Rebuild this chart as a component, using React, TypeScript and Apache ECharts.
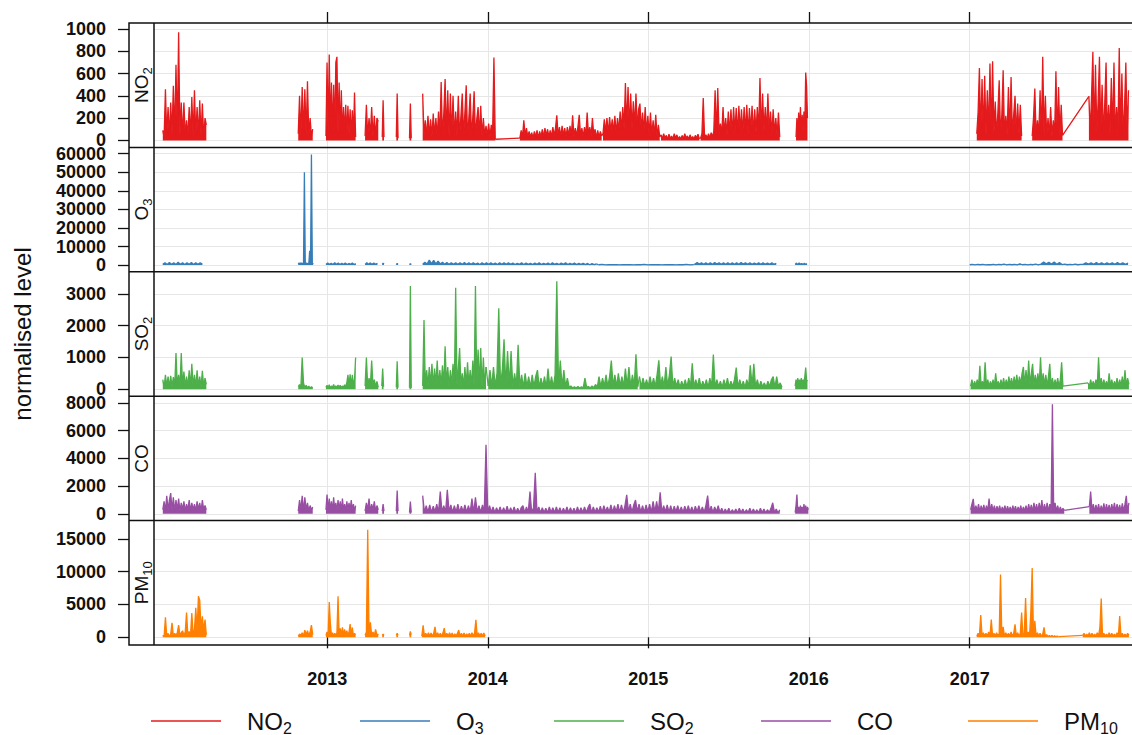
import React, { useEffect, useRef } from 'react';
import * as echarts from 'echarts';

type Seg = [string, number, number[], boolean?];

const seriesNames = ['NO2', 'O3', 'SO2', 'CO', 'PM10'];
const seriesRich = ['NO{sub|2}', 'O{sub|3}', 'SO{sub|2}', 'CO', 'PM{sub|10}'];
const seriesColors = ['#E41A1C', '#377EB8', '#4DAF4A', '#984EA3', '#FF7F00'];

const yearTicks = ['2013-01-01', '2014-01-01', '2015-01-01', '2016-01-01', '2017-01-01'];
const xRange = ['2011-12-04', '2018-01-05'];

const no2Ticks = [0, 200, 400, 600, 800, 1000];
const o3Ticks = [0, 10000, 20000, 30000, 40000, 50000, 60000];
const so2Ticks = [0, 1000, 2000, 3000];
const coTicks = [0, 2000, 4000, 6000, 8000];
const pm10Ticks = [0, 5000, 10000, 15000];
const yRanges: [number, number][] = [[-63, 1054], [-3600, 63400], [-220, 3700], [-485, 8485], [-1170, 17770]];

// segments: [start date, step in days, values, joined to previous segment by a straight line]
const no2Segs: Seg[] = [
  ['2011-12-24', 3, [90, 30, 460, 40, 300, 30, 340, 50, 490, 40, 680, 60, 970, 40, 340, 30, 340, 40, 180, 30, 300, 40, 390, 30, 450, 40, 300, 30, 360, 40, 330, 30, 200, 140]],
  ['2012-10-27', 3, [60, 400, 40, 480, 60, 460, 40, 530, 30, 200, 40, 100]],
  ['2012-12-29', 2.5, [40, 700, 60, 770, 80, 520, 50, 500, 70, 700, 750, 60, 520, 50, 450, 40, 300, 60, 320, 40, 310, 50, 280, 40, 270, 30, 430, 30]],
  ['2013-03-28', 3, [40, 320, 30, 200, 40, 300, 30, 220, 40, 200, 170]],
  ['2013-05-06', 2, [30, 360, 30]],
  ['2013-06-07', 2, [30, 420, 20]],
  ['2013-07-07', 2, [20, 330, 20]],
  ['2013-08-06', 3, [420, 40, 180, 30, 220, 40, 190, 30, 240, 40, 200, 30, 260, 40, 525, 30, 240, 550, 40, 450, 30, 420, 40, 400, 30, 260, 40, 400, 30, 220, 420, 40, 250, 495, 30, 200, 420, 40, 210, 440, 30, 190, 300, 40, 310, 30, 200, 40, 130, 40, 150, 30, 140, 60, 745, 10]],
  ['2014-03-15', 3, [20, 90, 30, 180, 40, 110, 30, 80, 30, 70, 20, 80, 30, 90, 20, 80, 30, 100, 30, 110, 40, 100, 30, 90, 30, 120, 40, 110, 225, 40, 120, 30, 130, 40, 110, 30, 120, 40, 130, 40, 225, 30, 110, 40, 120, 230, 40, 110, 30, 120, 40, 250, 50, 120, 40, 200, 50, 100, 20, 90, 30, 80, 40], true],
  ['2014-09-20', 3, [60, 190, 70, 200, 60, 210, 80, 190, 70, 220, 60, 200, 80, 260, 90, 300, 100, 515, 120, 480, 110, 420, 100, 350, 120, 420, 110, 280, 330, 90, 250, 70, 300, 60, 220, 50, 250, 40, 180, 40, 230, 30, 140, 30], true],
  ['2015-01-30', 3, [50, 15, 60, 20, 45, 10, 55, 15, 40, 10, 60, 20, 50, 10, 35, 10, 45, 15, 60, 20, 40, 10, 50, 15, 35, 10, 45, 20, 55, 15], true],
  ['2015-04-30', 3, [20, 60, 380, 30, 50, 20, 60, 20, 70, 30, 80, 450, 40, 470, 60, 150, 50, 300, 60, 200, 50, 260, 60, 280, 50, 300, 70, 290, 60, 310, 80, 280, 60, 300, 70, 320, 60, 290, 80, 310, 60, 280, 70, 300, 80, 560, 60, 420, 80, 300, 60, 420, 70, 260, 50, 280, 60, 200, 40, 250, 30], true],
  ['2015-12-03', 2, [30, 200, 40, 250, 60, 300, 50, 230, 80, 260, 100, 610, 490, 200]],
  ['2017-01-17', 3, [60, 250, 650, 40, 550, 50, 580, 40, 450, 60, 690, 40, 710, 60, 350, 40, 250, 540, 50, 230, 630, 40, 220, 50, 480, 40, 570, 50, 230, 400, 40, 330, 50, 320, 40]],
  ['2017-05-23', 3, [40, 200, 465, 30, 180, 40, 450, 30, 750, 40, 400, 30, 200, 40, 300, 30, 180, 40, 620, 30, 480, 40, 320, 45]],
  ['2017-09-29', 3, [395, 60, 400, 795, 50, 680, 70, 350, 750, 60, 500, 50, 330, 700, 40, 320, 60, 560, 50, 700, 40, 300, 60, 830, 50, 600, 40, 300, 700, 50, 450], true],
];

const o3Segs: Seg[] = [
  ['2011-12-24', 5, [400, 1300, 300, 1400, 500, 1200, 300, 1500, 400, 1300, 300, 1200, 500, 1400, 300, 1300, 400, 1200, 600]],
  ['2012-10-27', 2, [500, 1200, 400, 1300, 500, 1100, 400, 50000, 600, 1200, 400, 1100, 500, 7700, 1000, 59600, 800, 1200]],
  ['2012-12-29', 4, [300, 1200, 400, 1000, 300, 1300, 500, 1100, 300, 1000, 400, 1200, 300, 900, 400, 1100, 300, 800]],
  ['2013-03-28', 4, [400, 1300, 500, 1200, 400, 1100, 500, 900]],
  ['2013-05-06', 2, [400, 1000, 500]],
  ['2013-06-07', 2, [300, 900, 400]],
  ['2013-07-07', 2, [300, 800, 300]],
  ['2013-08-06', 5, [500, 1500, 600, 2700, 800, 2500, 700, 2200, 600, 1600, 500, 1400, 400, 1300, 500, 1200, 400, 1300, 500, 1400, 400, 1200, 500, 1300, 400, 1100, 300, 1200, 400, 1300, 500, 1200, 400, 1100, 300, 1200, 400, 1300, 500, 1200, 400, 1100, 300, 1000, 400, 1200, 300, 1100, 400, 1000, 300, 1100, 400, 1200, 300, 1000, 400, 1100, 300, 1200, 400, 1000, 300, 1100, 400, 1200, 300, 1000, 400, 1100, 300, 900, 400, 1000, 300, 900, 200, 800, 300, 700]],
  ['2014-09-10', 8, [200, 350, 150, 300, 200, 250, 150, 300, 200, 250, 150, 300, 200, 350, 150, 250, 200, 300, 150, 250, 200, 300, 150, 250, 200, 350, 150, 300], true],
  ['2015-04-17', 5, [500, 1400, 600, 1300, 500, 1200, 400, 1300, 500, 1400, 600, 1300, 500, 1200, 400, 1300, 500, 1200, 400, 1300, 500, 1400, 600, 1300, 500, 1200, 400, 1100, 500, 1300, 400, 1200, 500, 1100, 400, 1200, 500, 900], true],
  ['2015-12-01', 3, [400, 1100, 300, 1200, 500, 900, 300, 1000, 400, 800]],
  ['2017-01-01', 6, [200, 400, 150, 350, 200, 400, 150, 300, 200, 400, 150, 350, 200, 600, 150, 350, 200, 400, 150, 700, 200, 400, 150, 350, 200, 600, 150, 600, 1600, 700, 1500, 600, 1700, 500, 1400, 300, 500, 200, 400, 300, 500, 200, 400, 400, 1300, 500, 1200, 400, 1400, 500, 1300, 400, 1200, 500, 1300, 400, 1400, 500, 1200, 400, 1100]],
];

const so2Segs: Seg[] = [
  ['2011-12-24', 3, [300, 60, 450, 80, 400, 60, 420, 80, 380, 70, 1140, 100, 450, 80, 1140, 100, 560, 80, 400, 60, 600, 80, 800, 70, 450, 60, 600, 80, 400, 60, 580, 80, 350, 150]],
  ['2012-10-27', 3, [80, 150, 60, 1000, 200, 50, 120, 40, 100, 30, 80, 40]],
  ['2012-12-29', 2.5, [60, 120, 50, 140, 40, 100, 60, 150, 50, 110, 40, 130, 60, 120, 50, 100, 60, 140, 80, 200, 450, 100, 470, 80, 450, 150, 300, 1000]],
  ['2013-03-28', 3, [100, 1000, 80, 350, 100, 900, 120, 300, 80, 250, 60]],
  ['2013-05-05', 2, [100, 650, 80]],
  ['2013-06-07', 2, [60, 880, 50]],
  ['2013-07-07', 2, [50, 3250, 40]],
  ['2013-08-06', 3, [100, 2180, 80, 600, 100, 700, 120, 800, 100, 650, 150, 900, 100, 600, 120, 750, 100, 1350, 150, 700, 80, 600, 120, 800, 100, 3200, 150, 650, 1300, 100, 500, 80, 700, 100, 850, 120, 600, 90, 900, 100, 3250, 150, 1250, 100, 1300, 80, 1000, 100, 700]],
  ['2014-01-02', 4, [100, 600, 80, 700, 100, 500, 2550, 120, 600, 1570, 100, 1200, 120, 1200, 80, 500, 100, 1400, 80, 450, 60, 500, 80, 400, 60, 450, 80, 400, 600, 60, 350, 80, 400, 50, 650, 80, 400, 60, 450, 3400, 80, 900, 60, 600, 80, 350, 60, 100, 40, 80, 40, 90, 40, 80, 40, 350, 50, 90, 40, 100, 50, 150, 60, 400, 80, 350, 100, 450, 80, 400, 900, 100, 450, 80, 500, 100, 400, 80, 650, 100, 700, 80, 450, 100, 1100, 80], true],
  ['2014-12-12', 4, [400, 80, 350, 100, 300, 80, 400, 100, 350, 80, 450, 910, 100, 400, 80, 700, 100, 450, 1030, 80, 350, 100, 300, 60, 250, 80, 300, 60, 350, 80, 820, 60, 300, 80, 350, 60, 250, 80, 300, 60, 350, 80, 1090, 60, 300, 80, 250, 60, 300, 80, 350, 60, 250, 80, 300, 680, 60, 300, 80, 250, 60, 300, 80, 750, 100, 800, 80, 300, 60, 250, 80, 200, 60, 250, 80, 300, 400, 60, 400, 80, 200, 60], true],
  ['2015-12-01', 2, [100, 300, 150, 350, 120, 300, 200, 350, 150, 300, 200, 400, 680, 300, 250]],
  ['2017-01-03', 3, [100, 300, 80, 250, 100, 300, 80, 740, 100, 250, 80, 850, 100, 300, 80, 250, 100, 300, 80, 500, 100, 250, 80, 300, 100, 350, 80, 300, 100, 400, 120, 350, 100, 400, 120, 450, 100, 400, 150, 500, 700, 150, 600, 120, 900, 150, 500, 800, 120, 450, 150, 500, 120, 1010, 150, 500, 120, 450, 100, 400, 800, 100, 350, 80, 300, 100, 350, 80, 300, 850, 100]],
  ['2017-09-27', 3, [200, 80, 300, 100, 250, 80, 300, 120, 1010, 100, 350, 80, 300, 100, 250, 80, 500, 100, 300, 80, 250, 100, 350, 80, 300, 100, 400, 80, 600, 100, 350, 150], true],
];

const coSegs: Seg[] = [
  ['2011-12-24', 3, [300, 900, 200, 1300, 300, 1000, 1500, 300, 1200, 200, 1000, 300, 1100, 200, 800, 300, 900, 200, 700, 300, 1000, 200, 800, 300, 700, 200, 900, 300, 800, 200, 1000, 300, 600, 300]],
  ['2012-10-27', 3, [200, 1000, 300, 1300, 200, 1200, 300, 800, 200, 600, 300, 500]],
  ['2012-12-29', 2.5, [300, 1400, 200, 1100, 300, 900, 200, 1200, 300, 800, 200, 1000, 300, 900, 200, 1100, 300, 700, 200, 900, 300, 800, 200, 1000, 300, 700, 200, 600]],
  ['2013-03-28', 3, [200, 800, 300, 1100, 200, 700, 300, 900, 200, 600, 300]],
  ['2013-05-06', 2, [200, 700, 200]],
  ['2013-06-07', 2, [200, 1690, 200]],
  ['2013-07-07', 2, [100, 890, 100]],
  ['2013-08-06', 4, [
    1320, 100, 600, 120, 650, 100, 550, 150, 700, 100,
    1610, 120, 600, 100, 1730, 150, 650, 100, 600, 120,
    700, 100, 550, 150, 650, 100, 600, 120, 1100, 100,
    1200, 120, 600, 100, 650, 150, 4990, 100, 600, 120,
    500, 80, 450, 100, 500, 80, 450, 100, 550, 80,
    450, 100, 500, 80, 400, 100, 450, 600, 80, 500,
    100, 1610, 80, 450, 2960, 100, 500, 80, 450, 100,
    400, 80, 500, 100, 450, 80, 500, 100, 450, 80,
    400, 100, 500, 80, 450, 100, 400, 80, 500, 100,
    450, 80, 500, 100, 450, 700, 80, 500, 100, 450,
    120, 550, 100, 600, 150, 500, 120, 650, 100, 600,
    150, 700, 120, 650, 100, 600, 1370, 150, 700, 120,
    650, 1000, 150, 700, 120, 600, 100, 650, 150, 700,
    120, 900, 150, 900, 120, 1550, 100, 600, 150, 650,
    120, 600, 100, 550, 150, 600, 120, 500, 100, 550,
    150, 600, 120, 500, 100, 550, 150, 600, 120, 500,
    100, 600, 1320, 120, 550, 100, 500, 150, 600, 100,
    400, 80, 350, 100, 400, 80, 300, 100, 350, 80,
    400, 100, 350, 80, 300, 100, 400, 80, 350, 100,
    300, 80, 400, 100, 350, 80, 300, 100, 400, 800,
    100, 350, 80, 300]],
  ['2015-12-01', 2, [100, 600, 1390, 200, 500, 100, 600, 200, 500, 100, 700, 200, 600, 100, 500, 300]],
  ['2017-01-03', 3, [
    300, 700, 1080, 150, 600, 200, 700, 150, 600, 200,
    650, 150, 600, 200, 1100, 150, 700, 200, 600, 150,
    550, 200, 600, 150, 500, 200, 600, 150, 550, 200,
    500, 150, 600, 200, 550, 150, 500, 200, 600, 150,
    500, 200, 600, 150, 700, 200, 650, 150, 800, 200,
    700, 150, 800, 200, 1000, 150, 700, 200, 800, 150,
    700, 200, 7900, 150, 800, 200, 600, 150, 500, 200,
    400, 250]],
  ['2017-09-30', 3, [530, 1610, 200, 700, 150, 650, 200, 700, 150, 600, 200, 750, 150, 700, 200, 650, 150, 700, 200, 800, 150, 700, 200, 650, 150, 750, 200, 700, 1300, 200, 800], true],
];

const pm10Segs: Seg[] = [
  ['2011-12-24', 3, [300, 100, 3030, 200, 600, 100, 500, 2210, 200, 600, 300, 700, 1870, 300, 700, 1000, 300, 800, 3790, 400, 900, 300, 3700, 500, 1200, 4490, 1000, 6260, 5660, 1200, 3200, 1000, 2700, 400]],
  ['2012-10-27', 3, [200, 500, 300, 700, 200, 1100, 400, 1000, 300, 800, 1870, 400]],
  ['2012-12-29', 2.5, [300, 800, 400, 5390, 2130, 300, 700, 200, 600, 300, 700, 6260, 300, 1360, 400, 1500, 300, 1200, 400, 1000, 300, 800, 2020, 300, 1500, 200, 600, 400]],
  ['2013-03-28', 3, [300, 800, 16360, 400, 2300, 300, 800, 300, 1200, 300, 500]],
  ['2013-05-06', 2, [300, 500, 300]],
  ['2013-06-07', 2, [300, 600, 300]],
  ['2013-07-07', 2, [300, 900, 400]],
  ['2013-08-04', 3, [200, 1820, 200, 600, 150, 700, 200, 650, 150, 600, 1600, 200, 700, 150, 600, 200, 650, 1410, 200, 600, 150, 700, 200, 650, 150, 550, 200, 600, 1100, 150, 600, 200, 650, 150, 550, 200, 600, 150, 700, 200, 650, 2670, 200, 700, 150, 600, 200, 650, 200]],
  ['2017-01-17', 3, [150, 600, 200, 3380, 200, 700, 150, 600, 200, 800, 150, 2720, 200, 600, 150, 700, 200, 600, 9550, 200, 1600, 150, 700, 200, 600, 150, 800, 200, 600, 1970, 150, 700, 200, 600, 3790, 200, 700, 6000, 200, 800, 150, 4000, 10550, 200, 2500, 150, 700, 200, 600, 150, 500, 1500, 150, 400, 100, 300, 100, 300, 100, 250, 100, 200, 100]],
  ['2017-09-15', 3, [300, 600, 150, 500, 200, 700, 150, 600, 200, 500, 150, 700, 200, 1500, 5910, 200, 600, 150, 500, 200, 700, 150, 600, 200, 500, 150, 700, 200, 3230, 150, 600, 200, 500, 150, 600, 300], true],
];

const allSegs = [no2Segs, o3Segs, so2Segs, coSegs, pm10Segs];
const allTicks = [no2Ticks, o3Ticks, so2Ticks, coTicks, pm10Ticks];
const legendLefts = [151, 360, 554, 761, 968];

const DAY = 86400000;
// main: every recorded segment (with breaks between them); links: straight lines across the joined gaps
function buildData(segs: Seg[]) {
  const main: (number | null)[][] = [];
  const links: (number | null)[][] = [];
  let last: [number, number] | null = null;
  segs.forEach(([start, step, vals, join]) => {
    const t0 = Date.parse(start);
    if (last !== null) {
      main.push([(last[0] + t0) / 2, null]);
      if (join) {
        links.push([last[0], last[1]], [t0, vals[0]], [t0 + 1, null]);
      }
    }
    vals.forEach((v, j) => main.push([t0 + j * step * DAY, v]));
    last = [t0 + (vals.length - 1) * step * DAY, vals[vals.length - 1]];
  });
  return { main, links };
}

const FONT = '"Liberation Sans", Arial, Helvetica, sans-serif';
const TXT = '#111111';
const STRIP_LEFT = 129;
const PLOT_LEFT = 154;
const PLOT_RIGHT = 1132;
const FRAME_RIGHT = 1146;
const TOP = 23;
const PANEL_H = 124.4;
const GRIDC = '#e6e6e6';

export default function App() {
  const ref = useRef<HTMLDivElement>(null);
  useEffect(() => {
    if (!ref.current) return;
    const chart = echarts.init(ref.current, null, { renderer: 'svg' });
    const tMin = Date.parse(xRange[0]);
    const tMax = Date.parse(xRange[1]);
    const yearTs = yearTicks.map((d) => Date.parse(d));
    const n = seriesNames.length;

    const grid = seriesNames.map((_, i) => ({
      left: PLOT_LEFT,
      top: TOP + i * PANEL_H,
      width: PLOT_RIGHT - PLOT_LEFT,
      height: PANEL_H,
    }));

    const xAxis: any[] = seriesNames.map((_, i) => ({
      type: 'value',
      gridIndex: i,
      position: 'bottom',
      min: tMin,
      max: tMax,
      axisLine: { show: false },
      axisTick: {
        show: i === n - 1,
        customValues: yearTs,
        length: 11,
        lineStyle: { color: TXT, width: 1.3 },
      },
      axisLabel: {
        show: i === n - 1,
        customValues: yearTs,
        formatter: (v: number) => String(new Date(v).getUTCFullYear()),
        fontSize: 18,
        fontWeight: 'bold',
        fontFamily: FONT,
        color: TXT,
        margin: 25,
      },
      splitLine: { show: true, lineStyle: { color: GRIDC, width: 1 } },
    }));
    xAxis.push({
      type: 'value',
      gridIndex: 0,
      position: 'top',
      min: tMin,
      max: tMax,
      axisLine: { show: false },
      axisTick: { show: true, customValues: yearTs, length: 11, lineStyle: { color: TXT, width: 1.3 } },
      axisLabel: { show: false, customValues: yearTs },
      splitLine: { show: false },
    });

    const yAxis = seriesNames.map((_, i) => ({
      type: 'value',
      gridIndex: i,
      position: 'left',
      offset: PLOT_LEFT - STRIP_LEFT,
      min: yRanges[i][0],
      max: yRanges[i][1],
      axisLine: { show: false },
      axisTick: { show: true, customValues: allTicks[i], length: 11, lineStyle: { color: TXT, width: 1.3 } },
      axisLabel: {
        customValues: allTicks[i],
        formatter: (v: number) => String(v),
        fontSize: 18,
        fontWeight: 'bold',
        fontFamily: FONT,
        color: TXT,
        margin: 23,
      },
      splitLine: { show: true, lineStyle: { color: GRIDC, width: 1 } },
    }));

    const series: any[] = [];
    seriesNames.forEach((name, i) => {
      const { main, links } = buildData(allSegs[i]);
      series.push({
        name,
        type: 'line',
        xAxisIndex: i,
        yAxisIndex: i,
        data: main,
        symbol: 'none',
        showSymbol: false,
        connectNulls: false,
        clip: true,
        silent: true,
        lineStyle: { width: 1.3, color: seriesColors[i], join: 'bevel' },
        areaStyle: { color: seriesColors[i], opacity: 1, origin: 'auto' },
        itemStyle: { color: seriesColors[i] },
        emphasis: { disabled: true },
      });
      if (links.length) {
        series.push({
          name,
          type: 'line',
          xAxisIndex: i,
          yAxisIndex: i,
          data: links,
          symbol: 'none',
          showSymbol: false,
          connectNulls: false,
          clip: true,
          silent: true,
          lineStyle: { width: 1.3, color: seriesColors[i] },
          itemStyle: { color: seriesColors[i] },
          emphasis: { disabled: true },
        });
      }
    });

    const legend = seriesNames.map((name, i) => ({
      data: [name],
      left: legendLefts[i],
      top: 706,
      padding: 0,
      icon: 'rect',
      itemWidth: 70,
      itemHeight: 1.5,
      selectedMode: false,
      formatter: () => seriesRich[i],
      textStyle: {
        fontSize: 24,
        fontFamily: FONT,
        color: TXT,
        lineHeight: 30,
        padding: [0, 0, 0, 21],
        rich: {
          sub: { fontSize: 16, lineHeight: 17, verticalAlign: 'bottom', fontFamily: FONT, color: TXT },
        },
      },
    }));

    const graphic: any[] = [];
    graphic.push({
      type: 'rect',
      silent: true,
      z: 100,
      shape: { x: STRIP_LEFT, y: TOP, width: FRAME_RIGHT - STRIP_LEFT, height: PANEL_H * n },
      style: { fill: 'transparent', stroke: TXT, lineWidth: 1.5 },
    });
    for (let i = 1; i < n; i++) {
      graphic.push({
        type: 'line',
        silent: true,
        z: 100,
        shape: { x1: STRIP_LEFT, y1: TOP + i * PANEL_H, x2: FRAME_RIGHT, y2: TOP + i * PANEL_H },
        style: { stroke: TXT, lineWidth: 1.5 },
      });
    }
    graphic.push({
      type: 'line',
      silent: true,
      z: 100,
      shape: { x1: PLOT_LEFT, y1: TOP, x2: PLOT_LEFT, y2: TOP + PANEL_H * n },
      style: { stroke: TXT, lineWidth: 1.5 },
    });
    seriesRich.forEach((label, i) => {
      graphic.push({
        type: 'text',
        silent: true,
        z: 100,
        x: (STRIP_LEFT + PLOT_LEFT) / 2,
        y: TOP + (i + 0.5) * PANEL_H,
        rotation: Math.PI / 2,
        style: {
          text: label,
          fontSize: 19,
          fontFamily: FONT,
          fill: TXT,
          lineHeight: 24,
          align: 'center',
          verticalAlign: 'middle',
          rich: { sub: { fontSize: 13, lineHeight: 14, verticalAlign: 'bottom', fontFamily: FONT, fill: TXT } },
        },
      });
    });
    graphic.push({
      type: 'text',
      silent: true,
      z: 100,
      x: 22,
      y: TOP + (PANEL_H * n) / 2,
      rotation: Math.PI / 2,
      style: {
        text: 'normalised level',
        fontSize: 24,
        fontFamily: FONT,
        fill: TXT,
        align: 'center',
        verticalAlign: 'middle',
      },
    });

    chart.setOption({
      animation: false,
      backgroundColor: '#ffffff',
      grid,
      xAxis,
      yAxis,
      series,
      legend,
      graphic,
    });
    return () => chart.dispose();
  }, []);
  return (
    <div
      ref={ref}
      style={{ position: 'fixed', left: 0, top: 0, width: 1132, height: 735, background: '#fff' }}
    />
  );
}
